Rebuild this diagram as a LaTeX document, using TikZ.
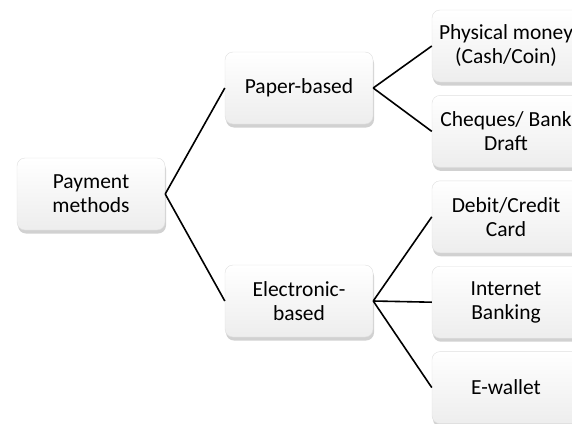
\documentclass[tikz,border=0pt]{standalone}
\usepackage{fontspec}
\setmainfont{Carlito}
\usepackage{tikz}
\usetikzlibrary{positioning,shadows}

\begin{document}
\begin{tikzpicture}[
    x=1pt, y=-1pt,
    node distance=13pt and 59pt,
    box/.style={
        rectangle,
        rounded corners=8pt,
        draw=gray!25,
        top color=white,
        bottom color=gray!14,
        drop shadow={shadow xshift=1pt, shadow yshift=-3.5pt, opacity=0.45, fill=gray!80},
        align=center,
        inner sep=0pt,
        minimum width=148pt,
        minimum height=72pt,
        font=\fontsize{21.5}{24}\selectfont
    },
    link/.style={line width=1.6pt, black}
]
\clip (0,0) rectangle (572,423);

% root and middle level
\node[box] (pay) at (91,194) {Payment\\methods};
\node[box] (paper) at (299,88) {Paper-based};
\node[box] (elec) at (299,301) {Electronic-\\based};

% leaves
\node[box] (cash) at (506,46) {Physical money\\(Cash/Coin)};
\node[box, below=of cash] (cheque) {Cheques/ Bank\\Draft};
\node[box, below=of cheque] (card) {Debit/Credit\\Card};
\node[box, below=of card] (inet) {Internet\\Banking};
\node[box, below=of inet] (wallet) {E-wallet};

% links
\draw[link] (pay.east) -- (paper.west);
\draw[link] (pay.east) -- (elec.west);
\draw[link] (paper.east) -- (cash.west);
\draw[link] (paper.east) -- (cheque.west);
\draw[link] (elec.east) -- (card.west);
\draw[link] (elec.east) -- (inet.west);
\draw[link] (elec.east) -- (wallet.west);

\end{tikzpicture}
\end{document}
